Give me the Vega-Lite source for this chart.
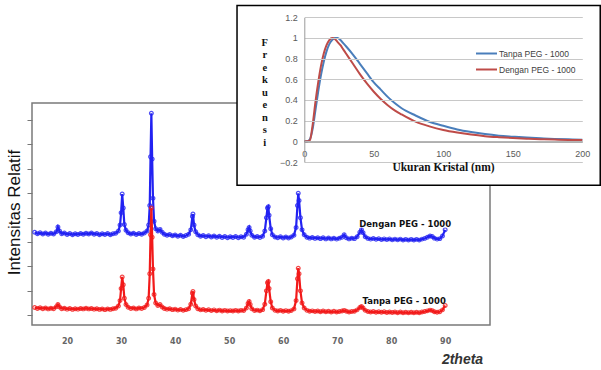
{
  "$schema": "https://vega.github.io/schema/vega-lite/v6.json",
  "width": 458,
  "height": 222,
  "autosize": "none",
  "padding": {"left": 32, "top": 103, "right": 111, "bottom": 45},
  "background": "white",
  "config": {"view": {"stroke": "#7a7a7a", "strokeWidth": 1.5}},
  "resolve": {"scale": {"x": "independent", "y": "independent"}, "axis": {"x": "independent", "y": "independent"}},
  "layer": [
    {
      "data": {"values": [
        {"t":14.0,"b":340,"r":32},{"t":14.5,"b":334,"r":28},{"t":15.0,"b":338,"r":31},{"t":15.5,"b":333,"r":27},
        {"t":16.0,"b":337,"r":30},{"t":16.5,"b":332,"r":26},{"t":17.0,"b":336,"r":29},{"t":17.5,"b":333,"r":27},
        {"t":18.0,"b":342,"r":35},{"t":18.3,"b":362,"r":44},{"t":18.6,"b":345,"r":34},{"t":19.0,"b":334,"r":27},
        {"t":19.5,"b":337,"r":29},{"t":20.0,"b":331,"r":25},{"t":20.5,"b":335,"r":28},{"t":21.0,"b":330,"r":24},
        {"t":21.5,"b":334,"r":27},{"t":22.0,"b":331,"r":25},{"t":22.5,"b":335,"r":28},{"t":23.0,"b":332,"r":26},
        {"t":23.5,"b":336,"r":29},{"t":24.0,"b":333,"r":26},{"t":24.5,"b":337,"r":28},{"t":25.0,"b":332,"r":25},
        {"t":25.5,"b":335,"r":27},{"t":26.0,"b":330,"r":24},{"t":26.5,"b":334,"r":26},{"t":27.0,"b":331,"r":23},
        {"t":27.5,"b":335,"r":26},{"t":28.0,"b":330,"r":24},{"t":28.5,"b":334,"r":27},{"t":29.0,"b":336,"r":29},
        {"t":29.5,"b":345,"r":38},{"t":29.8,"b":370,"r":60},{"t":30.0,"b":420,"r":110},{"t":30.2,"b":497,"r":157},
        {"t":30.4,"b":440,"r":125},{"t":30.6,"b":372,"r":70},{"t":30.9,"b":348,"r":44},{"t":31.3,"b":338,"r":33},
        {"t":31.8,"b":333,"r":28},{"t":32.3,"b":336,"r":30},{"t":32.8,"b":331,"r":26},{"t":33.3,"b":335,"r":30},
        {"t":33.8,"b":332,"r":28},{"t":34.3,"b":337,"r":32},{"t":34.8,"b":345,"r":42},{"t":35.1,"b":370,"r":70},
        {"t":35.3,"b":450,"r":170},{"t":35.45,"b":650,"r":330},{"t":35.6,"b":828,"r":440},{"t":35.75,"b":640,"r":320},
        {"t":35.9,"b":480,"r":190},{"t":36.1,"b":385,"r":85},{"t":36.4,"b":355,"r":50},{"t":36.8,"b":345,"r":40},
        {"t":37.2,"b":352,"r":44},{"t":37.6,"b":340,"r":34},{"t":38.0,"b":332,"r":28},{"t":38.5,"b":328,"r":25},
        {"t":39.0,"b":331,"r":27},{"t":39.5,"b":326,"r":23},{"t":40.0,"b":329,"r":25},{"t":40.5,"b":324,"r":21},
        {"t":41.0,"b":328,"r":24},{"t":41.5,"b":323,"r":20},{"t":42.0,"b":327,"r":23},{"t":42.5,"b":332,"r":27},
        {"t":42.9,"b":350,"r":45},{"t":43.2,"b":405,"r":90},{"t":43.3,"b":415,"r":97},{"t":43.5,"b":370,"r":65},
        {"t":43.8,"b":342,"r":38},{"t":44.2,"b":330,"r":27},{"t":44.7,"b":324,"r":22},{"t":45.2,"b":327,"r":24},
        {"t":45.7,"b":322,"r":20},{"t":46.2,"b":326,"r":23},{"t":46.7,"b":321,"r":19},{"t":47.2,"b":325,"r":22},
        {"t":47.7,"b":320,"r":18},{"t":48.2,"b":324,"r":21},{"t":48.7,"b":319,"r":17},{"t":49.2,"b":323,"r":20},
        {"t":49.7,"b":318,"r":17},{"t":50.2,"b":322,"r":19},{"t":50.7,"b":319,"r":17},{"t":51.2,"b":323,"r":20},
        {"t":51.7,"b":318,"r":17},{"t":52.2,"b":322,"r":20},{"t":52.7,"b":320,"r":19},{"t":53.2,"b":332,"r":30},
        {"t":53.5,"b":350,"r":48},{"t":53.7,"b":360,"r":56},{"t":53.9,"b":345,"r":44},{"t":54.2,"b":328,"r":27},
        {"t":54.7,"b":320,"r":19},{"t":55.2,"b":323,"r":21},{"t":55.7,"b":319,"r":18},{"t":56.2,"b":324,"r":23},
        {"t":56.6,"b":345,"r":45},{"t":56.9,"b":400,"r":100},{"t":57.1,"b":440,"r":133},{"t":57.25,"b":445,"r":138},
        {"t":57.4,"b":410,"r":110},{"t":57.7,"b":355,"r":55},{"t":58.0,"b":330,"r":30},{"t":58.5,"b":321,"r":20},
        {"t":59.0,"b":318,"r":17},{"t":59.5,"b":322,"r":20},{"t":60.0,"b":317,"r":16},{"t":60.5,"b":321,"r":19},
        {"t":61.0,"b":317,"r":16},{"t":61.5,"b":321,"r":19},{"t":62.0,"b":328,"r":26},{"t":62.4,"b":360,"r":60},
        {"t":62.65,"b":450,"r":150},{"t":62.8,"b":500,"r":193},{"t":62.95,"b":470,"r":170},{"t":63.2,"b":400,"r":100},
        {"t":63.5,"b":350,"r":50},{"t":63.9,"b":330,"r":30},{"t":64.4,"b":320,"r":20},{"t":64.9,"b":316,"r":16},
        {"t":65.4,"b":319,"r":18},{"t":65.9,"b":315,"r":15},{"t":66.4,"b":318,"r":17},{"t":66.9,"b":314,"r":14},
        {"t":67.4,"b":318,"r":17},{"t":67.9,"b":313,"r":14},{"t":68.4,"b":317,"r":16},{"t":68.9,"b":313,"r":13},
        {"t":69.4,"b":316,"r":16},{"t":69.9,"b":312,"r":13},{"t":70.4,"b":316,"r":15},{"t":70.9,"b":320,"r":17},
        {"t":71.3,"b":330,"r":20},{"t":71.7,"b":318,"r":16},{"t":72.2,"b":313,"r":13},{"t":72.7,"b":316,"r":15},
        {"t":73.2,"b":314,"r":16},{"t":73.7,"b":322,"r":22},{"t":74.2,"b":340,"r":32},{"t":74.5,"b":350,"r":36},
        {"t":74.8,"b":338,"r":30},{"t":75.2,"b":322,"r":20},{"t":75.7,"b":315,"r":15},{"t":76.2,"b":312,"r":13},
        {"t":76.7,"b":315,"r":15},{"t":77.2,"b":311,"r":12},{"t":77.7,"b":314,"r":14},{"t":78.2,"b":310,"r":12},
        {"t":78.7,"b":313,"r":14},{"t":79.2,"b":310,"r":11},{"t":79.7,"b":313,"r":13},{"t":80.2,"b":309,"r":11},
        {"t":80.7,"b":312,"r":13},{"t":81.2,"b":309,"r":10},{"t":81.7,"b":312,"r":13},{"t":82.2,"b":308,"r":10},
        {"t":82.7,"b":311,"r":12},{"t":83.2,"b":308,"r":10},{"t":83.7,"b":311,"r":12},{"t":84.2,"b":308,"r":10},
        {"t":84.7,"b":311,"r":12},{"t":85.2,"b":308,"r":10},{"t":85.7,"b":312,"r":13},{"t":86.2,"b":315,"r":15},
        {"t":86.7,"b":320,"r":18},{"t":87.2,"b":325,"r":21},{"t":87.6,"b":323,"r":19},{"t":88.0,"b":316,"r":14},
        {"t":88.5,"b":312,"r":12},{"t":89.0,"b":314,"r":14},{"t":89.5,"b":325,"r":22},{"t":90.0,"b":350,"r":40}
      ]},
      "layer": [
        {
          "mark": {"type": "line", "color": "#2222f2", "strokeWidth": 2.2},
          "encoding": {
            "x": {"field": "t", "type": "quantitative",
              "scale": {"domain": [13.5, 98.3], "range": [0, 458], "nice": false, "zero": false},
              "axis": {"orient": "bottom", "values": [20,30,40,50,60,70,80,90], "tickCount": 20, "domain": false, "ticks": false, "grid": false,
                "labelPadding": 12, "labelFont": "DejaVu Sans", "labelFontSize": 8, "labelFontWeight": "bold", "labelColor": "#666666",
                "labelFlush": false, "labelOverlap": false,
                "title": "2theta", "titleX": 430, "titleY": 34, "titleAlign": "center", "titleBaseline": "middle",
                "titleFont": "Liberation Sans", "titleFontSize": 14, "titleFontStyle": "italic", "titleFontWeight": "bold", "titleColor": "#333333"}},
            "y": {"field": "b", "type": "quantitative",
              "scale": {"domain": [-40, 870], "range": [222, 0], "nice": false, "zero": false},
              "axis": {"orient": "left", "values": [0,100,200,300,400,500,600,700,800], "tickCount": 20, "domain": false, "ticks": true, "tickSize": 5,
                "tickColor": "#777777", "labels": false, "grid": false,
                "title": "Intensitas Relatif", "titleAngle": -90, "titleX": -18, "titleY": 109, "titleAlign": "center", "titleBaseline": "middle",
                "titleFont": "Liberation Sans", "titleFontSize": 17, "titleFontWeight": "normal", "titleColor": "#111111"}}
          }
        },
        {
          "mark": {"type": "point", "color": "#2222f2", "size": 14, "strokeWidth": 1.2, "filled": false, "opacity": 0.8},
          "encoding": {"x": {"field": "t", "type": "quantitative"}, "y": {"field": "b", "type": "quantitative"}}
        },
        {
          "mark": {"type": "line", "color": "#f21a1a", "strokeWidth": 2.2},
          "encoding": {"x": {"field": "t", "type": "quantitative"}, "y": {"field": "r", "type": "quantitative"}}
        },
        {
          "mark": {"type": "point", "color": "#f21a1a", "size": 14, "strokeWidth": 1.2, "filled": false, "opacity": 0.8},
          "encoding": {"x": {"field": "t", "type": "quantitative"}, "y": {"field": "r", "type": "quantitative"}}
        },
        {
          "data": {"values": [{"label": "Dengan PEG - 1000", "lx": 82.6, "ly": 374}, {"label": "Tanpa PEG - 1000", "lx": 82.4, "ly": 60}]},
          "mark": {"type": "text", "font": "DejaVu Sans", "fontSize": 8.5, "fontWeight": "bold", "color": "#111111", "align": "center", "baseline": "middle"},
          "encoding": {"text": {"field": "label"}, "x": {"field": "lx", "type": "quantitative"}, "y": {"field": "ly", "type": "quantitative"}}
        }
      ]
    },
    {
      "layer": [
        {
          "data": {"values": [{"x1": -48.4, "x2": 212.9, "y1": 1.313, "y2": -0.426}]},
          "mark": {"type": "rect", "fill": "white", "stroke": "black", "strokeWidth": 1.5},
          "encoding": {
            "x": {"field": "x1", "type": "quantitative"},
            "x2": {"field": "x2"},
            "y": {"field": "y1", "type": "quantitative"},
            "y2": {"field": "y2"}
          }
        },
        {
          "data": {"values": [
            {"nm":0,"s":"Tanpa PEG - 1000","f":0},{"nm":2,"s":"Tanpa PEG - 1000","f":0},{"nm":4,"s":"Tanpa PEG - 1000","f":0.02},
            {"nm":6,"s":"Tanpa PEG - 1000","f":0.12},{"nm":8,"s":"Tanpa PEG - 1000","f":0.3},{"nm":10,"s":"Tanpa PEG - 1000","f":0.48},
            {"nm":12,"s":"Tanpa PEG - 1000","f":0.64},{"nm":14,"s":"Tanpa PEG - 1000","f":0.77},{"nm":16,"s":"Tanpa PEG - 1000","f":0.87},
            {"nm":18,"s":"Tanpa PEG - 1000","f":0.94},{"nm":20,"s":"Tanpa PEG - 1000","f":0.98},{"nm":22,"s":"Tanpa PEG - 1000","f":1.0},
            {"nm":24,"s":"Tanpa PEG - 1000","f":1.0},{"nm":26,"s":"Tanpa PEG - 1000","f":0.98},{"nm":28,"s":"Tanpa PEG - 1000","f":0.95},
            {"nm":30,"s":"Tanpa PEG - 1000","f":0.92},{"nm":35,"s":"Tanpa PEG - 1000","f":0.84},{"nm":40,"s":"Tanpa PEG - 1000","f":0.75},
            {"nm":45,"s":"Tanpa PEG - 1000","f":0.66},{"nm":50,"s":"Tanpa PEG - 1000","f":0.57},{"nm":55,"s":"Tanpa PEG - 1000","f":0.5},
            {"nm":60,"s":"Tanpa PEG - 1000","f":0.43},{"nm":65,"s":"Tanpa PEG - 1000","f":0.37},{"nm":70,"s":"Tanpa PEG - 1000","f":0.32},
            {"nm":80,"s":"Tanpa PEG - 1000","f":0.25},{"nm":90,"s":"Tanpa PEG - 1000","f":0.19},{"nm":100,"s":"Tanpa PEG - 1000","f":0.15},
            {"nm":110,"s":"Tanpa PEG - 1000","f":0.115},{"nm":120,"s":"Tanpa PEG - 1000","f":0.09},{"nm":130,"s":"Tanpa PEG - 1000","f":0.07},
            {"nm":140,"s":"Tanpa PEG - 1000","f":0.055},{"nm":150,"s":"Tanpa PEG - 1000","f":0.045},{"nm":160,"s":"Tanpa PEG - 1000","f":0.036},
            {"nm":170,"s":"Tanpa PEG - 1000","f":0.029},{"nm":180,"s":"Tanpa PEG - 1000","f":0.023},{"nm":190,"s":"Tanpa PEG - 1000","f":0.019},
            {"nm":200,"s":"Tanpa PEG - 1000","f":0.016},
            {"nm":0,"s":"Dengan PEG - 1000","f":0},{"nm":2,"s":"Dengan PEG - 1000","f":0},{"nm":4,"s":"Dengan PEG - 1000","f":0.01},
            {"nm":6,"s":"Dengan PEG - 1000","f":0.16},{"nm":8,"s":"Dengan PEG - 1000","f":0.38},{"nm":10,"s":"Dengan PEG - 1000","f":0.57},
            {"nm":12,"s":"Dengan PEG - 1000","f":0.73},{"nm":14,"s":"Dengan PEG - 1000","f":0.85},{"nm":16,"s":"Dengan PEG - 1000","f":0.93},
            {"nm":18,"s":"Dengan PEG - 1000","f":0.98},{"nm":20,"s":"Dengan PEG - 1000","f":1.0},{"nm":22,"s":"Dengan PEG - 1000","f":0.99},
            {"nm":24,"s":"Dengan PEG - 1000","f":0.96},{"nm":26,"s":"Dengan PEG - 1000","f":0.93},{"nm":28,"s":"Dengan PEG - 1000","f":0.89},
            {"nm":30,"s":"Dengan PEG - 1000","f":0.85},{"nm":35,"s":"Dengan PEG - 1000","f":0.75},{"nm":40,"s":"Dengan PEG - 1000","f":0.65},
            {"nm":45,"s":"Dengan PEG - 1000","f":0.56},{"nm":50,"s":"Dengan PEG - 1000","f":0.48},{"nm":55,"s":"Dengan PEG - 1000","f":0.41},
            {"nm":60,"s":"Dengan PEG - 1000","f":0.35},{"nm":65,"s":"Dengan PEG - 1000","f":0.3},{"nm":70,"s":"Dengan PEG - 1000","f":0.26},
            {"nm":80,"s":"Dengan PEG - 1000","f":0.19},{"nm":90,"s":"Dengan PEG - 1000","f":0.145},{"nm":100,"s":"Dengan PEG - 1000","f":0.11},
            {"nm":110,"s":"Dengan PEG - 1000","f":0.085},{"nm":120,"s":"Dengan PEG - 1000","f":0.065},{"nm":130,"s":"Dengan PEG - 1000","f":0.05},
            {"nm":140,"s":"Dengan PEG - 1000","f":0.04},{"nm":150,"s":"Dengan PEG - 1000","f":0.032},{"nm":160,"s":"Dengan PEG - 1000","f":0.026},
            {"nm":170,"s":"Dengan PEG - 1000","f":0.021},{"nm":180,"s":"Dengan PEG - 1000","f":0.017},{"nm":190,"s":"Dengan PEG - 1000","f":0.014},
            {"nm":200,"s":"Dengan PEG - 1000","f":0.012}
          ]},
          "mark": {"type": "line", "strokeWidth": 2, "interpolate": "monotone"},
          "encoding": {
            "x": {"field": "nm", "type": "quantitative",
              "scale": {"domain": [0, 200], "range": [272.3, 550.3], "nice": false, "zero": false},
              "axis": {"orient": "bottom", "offset": -183.3, "values": [0,50,100,150,200], "tickCount": 20, "grid": false, "domain": true, "domainColor": "#8c8c8c",
                "ticks": false, "labelPadding": 8, "labelFlush": false, "labelOverlap": false, "labelFont": "Liberation Sans", "labelFontSize": 9, "labelColor": "#595959",
                "title": "Ukuran Kristal (nm)", "titleX": 411, "titleY": 26, "titleAlign": "center", "titleBaseline": "middle",
                "titleFont": "Liberation Serif", "titleFontSize": 11.5, "titleFontWeight": "bold", "titleColor": "#111111", "zindex": 1}},
            "y": {"field": "f", "type": "quantitative",
              "scale": {"domain": [-0.2, 1.2], "range": [59, -85.7], "nice": false, "zero": false},
              "axis": {"orient": "left", "offset": -272.3, "values": [-0.2,0,0.2,0.4,0.6,0.8,1,1.2], "tickCount": 20, "format": ".1~f", "grid": true,
                "gridColor": "#c8c8c8", "gridWidth": 1, "domain": true, "domainColor": "#9a9a9a", "ticks": false, "labelPadding": 7,
                "labelFont": "Liberation Sans", "labelFontSize": 9, "labelColor": "#595959", "labelOverlap": false, "labelFlush": false, "labelBound": false,
                "title": ["F","r","e","k","u","e","n","s","i"], "titleAngle": 0, "titleX": -40, "titleY": -61, "titleAlign": "center", "titleBaseline": "middle",
                "titleLineHeight": 12.5, "titleFont": "Liberation Serif", "titleFontSize": 10.5, "titleFontWeight": "bold", "titleColor": "#111111", "zindex": 1}},
            "color": {"field": "s", "type": "nominal",
              "scale": {"domain": ["Tanpa PEG - 1000", "Dengan PEG - 1000"], "range": ["#4a7ebb", "#be4b48"]},
              "legend": {"orient": "none", "legendX": 443, "legendY": -61, "title": null, "symbolType": "stroke", "symbolSize": 441,
                "symbolStrokeWidth": 2, "labelFont": "Liberation Sans", "labelFontSize": 8.5, "labelColor": "#404040", "labelOffset": 1, "rowPadding": -7}}
          }
        }
      ]
    }
  ]
}
